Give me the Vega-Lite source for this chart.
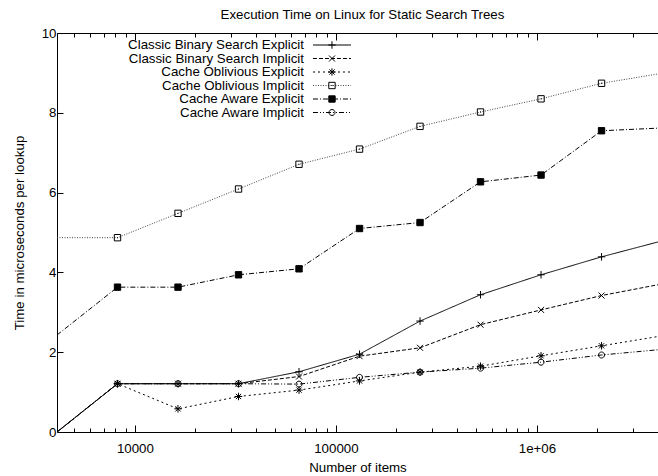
{
  "$schema": "https://vega.github.io/schema/vega-lite/v6.json",
  "autosize": {"type": "none"},
  "padding": {"left": 57, "top": 33, "right": 0, "bottom": 44},
  "width": 601,
  "height": 399,
  "title": {
    "text": "Execution Time on Linux for Static Search Trees",
    "font": "Liberation Sans",
    "fontSize": 13.3,
    "fontWeight": "normal",
    "color": "black",
    "anchor": "middle",
    "frame": "group",
    "baseline": "middle",
    "offset": -2,
    "dx": 5
  },
  "config": {
    "view": {"stroke": null},
    "font": "Liberation Sans"
  },
  "data": {
    "values": [
      {"s": "Classic Binary Search Explicit", "n": 4096, "t": 0},
      {"s": "Classic Binary Search Explicit", "n": 8192, "t": 1.21},
      {"s": "Classic Binary Search Explicit", "n": 16384, "t": 1.21},
      {"s": "Classic Binary Search Explicit", "n": 32768, "t": 1.21},
      {"s": "Classic Binary Search Explicit", "n": 65536, "t": 1.51},
      {"s": "Classic Binary Search Explicit", "n": 131072, "t": 1.95},
      {"s": "Classic Binary Search Explicit", "n": 262144, "t": 2.78},
      {"s": "Classic Binary Search Explicit", "n": 524288, "t": 3.44},
      {"s": "Classic Binary Search Explicit", "n": 1048576, "t": 3.94},
      {"s": "Classic Binary Search Explicit", "n": 2097152, "t": 4.39},
      {"s": "Classic Binary Search Explicit", "n": 4194304, "t": 4.79},
      {"s": "Classic Binary Search Implicit", "n": 4096, "t": 0},
      {"s": "Classic Binary Search Implicit", "n": 8192, "t": 1.21},
      {"s": "Classic Binary Search Implicit", "n": 16384, "t": 1.21},
      {"s": "Classic Binary Search Implicit", "n": 32768, "t": 1.21},
      {"s": "Classic Binary Search Implicit", "n": 65536, "t": 1.39},
      {"s": "Classic Binary Search Implicit", "n": 131072, "t": 1.9},
      {"s": "Classic Binary Search Implicit", "n": 262144, "t": 2.11},
      {"s": "Classic Binary Search Implicit", "n": 524288, "t": 2.69},
      {"s": "Classic Binary Search Implicit", "n": 1048576, "t": 3.06},
      {"s": "Classic Binary Search Implicit", "n": 2097152, "t": 3.42},
      {"s": "Classic Binary Search Implicit", "n": 4194304, "t": 3.71},
      {"s": "Cache Oblivious Explicit", "n": 4096, "t": 0},
      {"s": "Cache Oblivious Explicit", "n": 8192, "t": 1.21},
      {"s": "Cache Oblivious Explicit", "n": 16384, "t": 0.58},
      {"s": "Cache Oblivious Explicit", "n": 32768, "t": 0.89},
      {"s": "Cache Oblivious Explicit", "n": 65536, "t": 1.05},
      {"s": "Cache Oblivious Explicit", "n": 131072, "t": 1.28},
      {"s": "Cache Oblivious Explicit", "n": 262144, "t": 1.5},
      {"s": "Cache Oblivious Explicit", "n": 524288, "t": 1.65},
      {"s": "Cache Oblivious Explicit", "n": 1048576, "t": 1.91},
      {"s": "Cache Oblivious Explicit", "n": 2097152, "t": 2.16},
      {"s": "Cache Oblivious Explicit", "n": 4194304, "t": 2.41},
      {"s": "Cache Oblivious Implicit", "n": 4096, "t": 4.87},
      {"s": "Cache Oblivious Implicit", "n": 8192, "t": 4.87},
      {"s": "Cache Oblivious Implicit", "n": 16384, "t": 5.48},
      {"s": "Cache Oblivious Implicit", "n": 32768, "t": 6.09},
      {"s": "Cache Oblivious Implicit", "n": 65536, "t": 6.71},
      {"s": "Cache Oblivious Implicit", "n": 131072, "t": 7.09},
      {"s": "Cache Oblivious Implicit", "n": 262144, "t": 7.66},
      {"s": "Cache Oblivious Implicit", "n": 524288, "t": 8.02},
      {"s": "Cache Oblivious Implicit", "n": 1048576, "t": 8.35},
      {"s": "Cache Oblivious Implicit", "n": 2097152, "t": 8.74},
      {"s": "Cache Oblivious Implicit", "n": 4194304, "t": 8.99},
      {"s": "Cache Aware Explicit", "n": 4096, "t": 2.43},
      {"s": "Cache Aware Explicit", "n": 8192, "t": 3.63},
      {"s": "Cache Aware Explicit", "n": 16384, "t": 3.63},
      {"s": "Cache Aware Explicit", "n": 32768, "t": 3.94},
      {"s": "Cache Aware Explicit", "n": 65536, "t": 4.09},
      {"s": "Cache Aware Explicit", "n": 131072, "t": 5.1},
      {"s": "Cache Aware Explicit", "n": 262144, "t": 5.25},
      {"s": "Cache Aware Explicit", "n": 524288, "t": 6.27},
      {"s": "Cache Aware Explicit", "n": 1048576, "t": 6.44},
      {"s": "Cache Aware Explicit", "n": 2097152, "t": 7.55},
      {"s": "Cache Aware Explicit", "n": 4194304, "t": 7.62},
      {"s": "Cache Aware Implicit", "n": 4096, "t": 0},
      {"s": "Cache Aware Implicit", "n": 8192, "t": 1.21},
      {"s": "Cache Aware Implicit", "n": 16384, "t": 1.21},
      {"s": "Cache Aware Implicit", "n": 32768, "t": 1.21},
      {"s": "Cache Aware Implicit", "n": 65536, "t": 1.2},
      {"s": "Cache Aware Implicit", "n": 131072, "t": 1.37},
      {"s": "Cache Aware Implicit", "n": 262144, "t": 1.5},
      {"s": "Cache Aware Implicit", "n": 524288, "t": 1.6},
      {"s": "Cache Aware Implicit", "n": 1048576, "t": 1.75},
      {"s": "Cache Aware Implicit", "n": 2097152, "t": 1.93},
      {"s": "Cache Aware Implicit", "n": 4194304, "t": 2.07}
    ]
  },
  "resolve": {
    "scale": {"y": "independent"},
    "axis": {"x": "independent", "y": "independent"}
  },
  "layer": [
    {
      "mark": {"type": "line", "clip": true, "strokeWidth": 1},
      "encoding": {
        "x": {
          "field": "n", "type": "quantitative",
          "scale": {"type": "log", "domain": [4096, 4004000], "nice": false},
          "axis": {
            "orient": "bottom",
            "values": [5000,6000,7000,8000,9000,10000,20000,30000,40000,50000,60000,70000,80000,90000,100000,200000,300000,400000,500000,600000,700000,800000,900000,1000000,2000000,3000000,4000000],
            "labelExpr": "datum.value == 10000 ? '10000' : datum.value == 100000 ? '100000' : datum.value == 1000000 ? '1e+06' : ''",
            "tickSize": {"condition": {"test": "indexof([10000,100000,1000000], datum.value) >= 0", "value": -7}, "value": -4},
            "tickColor": "black", "tickWidth": 1,
            "domainColor": "black", "domainWidth": 1,
            "grid": false,
            "labelFont": "Liberation Sans", "labelFontSize": 13.3, "labelColor": "black",
            "labelPadding": 16, "labelFlush": false, "labelOverlap": false,
            "title": "Number of items",
            "titleFont": "Liberation Sans", "titleFontSize": 13.3, "titleFontWeight": "normal", "titleColor": "black",
            "titleY": 35, "titleBaseline": "middle"
          }
        },
        "y": {
          "field": "t", "type": "quantitative",
          "scale": {"domain": [0, 10], "nice": false, "zero": false},
          "axis": {
            "orient": "left",
            "values": [0, 2, 4, 6, 8, 10],
            "tickSize": -6, "tickColor": "black", "tickWidth": 1,
            "domainColor": "black", "domainWidth": 1,
            "grid": false,
            "labelFont": "Liberation Sans", "labelFontSize": 13.3, "labelColor": "black",
            "labelPadding": 7, "labelFlush": false,
            "title": "Time in microseconds per lookup",
            "titleFont": "Liberation Sans", "titleFontSize": 13.3, "titleFontWeight": "normal", "titleColor": "black",
            "titleX": -38, "titleY": 199.5, "titleAngle": -90, "titleAlign": "center", "titleBaseline": "middle"
          }
        },
        "stroke": {
          "field": "s", "type": "nominal", "legend": null,
          "scale": {
            "domain": ["Classic Binary Search Explicit", "Classic Binary Search Implicit", "Cache Oblivious Explicit", "Cache Oblivious Implicit", "Cache Aware Explicit", "Cache Aware Implicit"],
            "range": ["black", "black", "black", "#444444", "black", "black"]
          }
        },
        "strokeDash": {
          "field": "s", "type": "nominal", "legend": null,
          "scale": {
            "domain": ["Classic Binary Search Explicit", "Classic Binary Search Implicit", "Cache Oblivious Explicit", "Cache Oblivious Implicit", "Cache Aware Explicit", "Cache Aware Implicit"],
            "range": [[1, 0], [4, 2], [2, 3], [1, 1.5], [5, 2, 1, 2], [5, 2, 1, 2, 1, 2]]
          }
        }
      }
    },
    {
      "transform": [{"filter": "datum.n > 4096 && datum.n < 4194304"}],
      "mark": {"type": "point", "filled": false, "opacity": 1, "strokeWidth": 1, "size": 56, "stroke": "black"},
      "encoding": {
        "x": {
          "field": "n", "type": "quantitative",
          "scale": {"type": "log", "domain": [4096, 4004000], "nice": false},
          "axis": {
            "orient": "top",
            "values": [5000,6000,7000,8000,9000,10000,20000,30000,40000,50000,60000,70000,80000,90000,100000,200000,300000,400000,500000,600000,700000,800000,900000,1000000,2000000,3000000,4000000],
            "labels": false,
            "tickSize": {"condition": {"test": "indexof([10000,100000,1000000], datum.value) >= 0", "value": -7}, "value": -4},
            "tickColor": "black", "tickWidth": 1,
            "domainColor": "black", "domainWidth": 1,
            "grid": false,
            "title": null
          }
        },
        "y": {
          "field": "t", "type": "quantitative",
          "scale": {"domain": [0, 10], "nice": false, "zero": false},
          "axis": null
        },
        "shape": {
          "field": "s", "type": "nominal", "legend": null,
          "scale": {
            "domain": ["Classic Binary Search Explicit", "Classic Binary Search Implicit", "Cache Oblivious Explicit", "Cache Oblivious Implicit", "Cache Aware Explicit", "Cache Aware Implicit"],
            "range": [
              "M-1,0L1,0M0,-1L0,1",
              "M-0.8,-0.8L0.8,0.8M-0.8,0.8L0.8,-0.8",
              "M-1,0L1,0M0,-1L0,1M-0.7,-0.7L0.7,0.7M-0.7,0.7L0.7,-0.7",
              "M-0.85,-0.85L0.85,-0.85L0.85,0.85L-0.85,0.85ZM-0.15,0L0.15,0",
              "M-0.85,-0.85L0.85,-0.85L0.85,0.85L-0.85,0.85Z",
              "M0.8,0A0.8,0.8 0 1,1 -0.8,0A0.8,0.8 0 1,1 0.8,0"
            ]
          }
        },
        "fill": {
          "field": "s", "type": "nominal", "legend": null,
          "scale": {
            "domain": ["Classic Binary Search Explicit", "Classic Binary Search Implicit", "Cache Oblivious Explicit", "Cache Oblivious Implicit", "Cache Aware Explicit", "Cache Aware Implicit"],
            "range": ["transparent", "transparent", "transparent", "transparent", "black", "transparent"]
          }
        }
      }
    },
    {
      "transform": [{"filter": "datum.n == 8192"}],
      "mark": {"type": "rule", "strokeWidth": 1},
      "encoding": {
        "x": {"datum": 76900, "type": "quantitative", "scale": {"type": "log", "domain": [4096, 4004000], "nice": false}, "axis": null},
        "x2": {"datum": 118900},
        "y": {
          "field": "s", "type": "nominal", "axis": null,
          "scale": {"type": "point", "domain": ["Classic Binary Search Explicit", "Classic Binary Search Implicit", "Cache Oblivious Explicit", "Cache Oblivious Implicit", "Cache Aware Explicit", "Cache Aware Implicit"], "range": [12, 79.5], "padding": 0}
        },
        "stroke": {"field": "s", "type": "nominal", "legend": null},
        "strokeDash": {"field": "s", "type": "nominal", "legend": null}
      }
    },
    {
      "transform": [{"filter": "datum.n == 8192"}],
      "mark": {"type": "point", "filled": false, "opacity": 1, "strokeWidth": 1, "size": 56, "stroke": "black"},
      "encoding": {
        "x": {"datum": 95600, "type": "quantitative", "scale": {"type": "log", "domain": [4096, 4004000], "nice": false}, "axis": null},
        "y": {
          "field": "s", "type": "nominal", "axis": null,
          "scale": {"type": "point", "domain": ["Classic Binary Search Explicit", "Classic Binary Search Implicit", "Cache Oblivious Explicit", "Cache Oblivious Implicit", "Cache Aware Explicit", "Cache Aware Implicit"], "range": [12, 79.5], "padding": 0}
        },
        "shape": {"field": "s", "type": "nominal", "legend": null},
        "fill": {"field": "s", "type": "nominal", "legend": null}
      }
    },
    {
      "transform": [{"filter": "datum.n == 8192"}],
      "mark": {"type": "text", "align": "right", "baseline": "middle", "font": "Liberation Sans", "fontSize": 13.3, "color": "black"},
      "encoding": {
        "x": {"datum": 69370, "type": "quantitative", "scale": {"type": "log", "domain": [4096, 4004000], "nice": false}, "axis": null},
        "y": {
          "field": "s", "type": "nominal", "axis": null,
          "scale": {"type": "point", "domain": ["Classic Binary Search Explicit", "Classic Binary Search Implicit", "Cache Oblivious Explicit", "Cache Oblivious Implicit", "Cache Aware Explicit", "Cache Aware Implicit"], "range": [12, 79.5], "padding": 0}
        },
        "text": {"field": "s", "type": "nominal"}
      }
    }
  ]
}
